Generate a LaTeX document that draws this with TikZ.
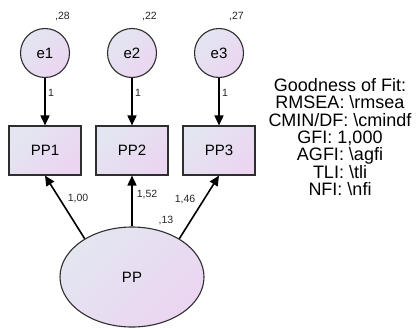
\documentclass[tikz,border=0pt]{standalone}
\usepackage{fontspec}
\setmainfont{Liberation Sans}
\usetikzlibrary{shapes.geometric,arrows.meta}
\definecolor{shadeA}{HTML}{E3E6F1}
\definecolor{shadeB}{HTML}{EBD5F1}
\definecolor{edge}{HTML}{2E2E2E}
\tikzset{
  filled/.style={draw=edge, line width=1.1pt, shading=axis, top color=shadeA, bottom color=shadeB, shading angle=45},
  errvar/.style={filled, circle, minimum size=49pt, inner sep=0pt, font=\fontsize{15}{18}\selectfont},
  observed/.style={filled, rectangle, minimum width=72pt, minimum height=49pt, inner sep=0pt, font=\fontsize{15}{18}\selectfont},
  latent/.style={filled, ellipse, minimum width=144pt, minimum height=100pt, inner sep=0pt, font=\fontsize{15}{18}\selectfont},
  path/.style={draw=black, line width=1.6pt, -{Triangle[length=10pt,width=9pt]}},
  est/.style={inner sep=0pt, font=\fontsize{10.5}{12}\selectfont, text=black!85}
}
\begin{document}
\begin{tikzpicture}[x=1pt, y=-1pt]
\useasboundingbox (0,0) rectangle (417,327);

% error terms
\node[errvar] (e1) at (45,53) {e1};
\node[errvar] (e2) at (132,53) {e2};
\node[errvar] (e3) at (219,53) {e3};

% indicators
\node[observed] (PP1) at (45,150.5) {PP1};
\node[observed] (PP2) at (132,150.5) {PP2};
\node[observed] (PP3) at (219,150.5) {PP3};

% latent factor
\node[latent] (PP) at (132,277) {PP};

% error paths
\draw[path] (e1) -- (PP1);
\draw[path] (e2) -- (PP2);
\draw[path] (e3) -- (PP3);

% loadings
\draw[path] (PP.141) -- (PP1.south);
\draw[path] (PP.north) -- (PP2.south);
\draw[path] (PP.39) -- (PP3.south);

% variances
\node[est] (v1) at (62.5,17) {,28};
\node[est] (v2) at (149.5,17) {,22};
\node[est] (v3) at (236.5,17) {,27};
\node[est] (v4) at (166,220) {,13};

% regression weights
\node[est, anchor=west] (w1) at (48,93) {1};
\node[est, anchor=west] (w2) at (135,93) {1};
\node[est, anchor=west] (w3) at (222,93) {1};
\node[est] (l1) at (78,199) {1,00};
\node[est] (l2) at (147,195) {1,52};
\node[est] (l3) at (185,200) {1,46};

% fit summary
\node[align=center, inner sep=0pt, font=\fontsize{18}{17.3}\selectfont] (fit) at (340,137)
  {Goodness of Fit:\\RMSEA: \textbackslash rmsea\\CMIN/DF: \textbackslash cmindf\\GFI: 1,000\\AGFI: \textbackslash agfi\\TLI: \textbackslash tli\\NFI: \textbackslash nfi};
\end{tikzpicture}
\end{document}
